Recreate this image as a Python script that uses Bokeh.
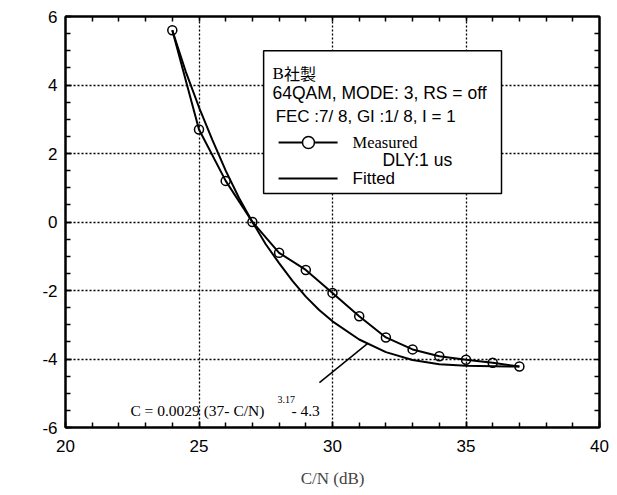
import numpy as np
from bokeh.plotting import figure
from bokeh.models import (LinearAxis, SingleIntervalTicker, FixedTicker, Label, Range1d,
                          PrintfTickFormatter)
from bokeh.embed import file_html
from bokeh.resources import INLINE

# ---- data ----
cn_measured = [24, 25, 26, 27, 28, 29, 30, 31, 32, 33, 34, 35, 36, 37]
c_measured = [5.6, 2.7, 1.2, 0.0, -0.9, -1.4, -2.07, -2.75, -3.37, -3.72, -3.92, -4.02, -4.11, -4.22]

cn_fitted = [24, 24.5, 25, 25.5, 26, 26.5, 27, 27.5, 28, 28.5, 29, 29.5, 30, 31, 32, 33, 34, 35, 36, 37]
c_fitted = [5.6, 4.4, 3.35, 2.4, 1.5, 0.7, 0.0, -0.65, -1.2, -1.72, -2.18, -2.57, -2.9, -3.43, -3.8, -4.03, -4.15, -4.2, -4.21, -4.22]

x_range = (20, 40)
y_range = (-6, 6)

legend_lines = ["64QAM, MODE: 3,  RS = off", "FEC :7/ 8, GI :1/ 8, I = 1"]
legend_title_b = "B"
legend_title_jp = "社製"
ylabel_chars = ["補", "正", "値"]
formula_main = "C = 0.0029 (37- C/N)"
formula_exp = "3.17"
formula_tail = "- 4.3"

# annotation anchor positions (data units)
box_lrtb = (27.42, 36.33, 5.0, 0.83)
leader_x = [29.51, 31.31]
leader_y = [-4.69, -3.55]

SANS = "Liberation Sans"
SERIF = "Liberation Serif"
CJK = "Noto Sans CJK JP"

p = figure(width=617, height=495, output_backend="svg", toolbar_location=None,
           x_range=Range1d(*x_range), y_range=Range1d(*y_range),
           min_border_left=65, min_border_right=18, min_border_top=16, min_border_bottom=68,
           background_fill_color="white", border_fill_color="white")
p.outline_line_color = "black"
p.outline_line_width = 2

xt = SingleIntervalTicker(interval=5, num_minor_ticks=5)
yt = SingleIntervalTicker(interval=2, num_minor_ticks=4)

p.xaxis.ticker = xt
p.yaxis.ticker = yt
p.yaxis.formatter = PrintfTickFormatter(format="%d")
p.xaxis.formatter = PrintfTickFormatter(format="%d")
for ax in (p.xaxis[0], p.yaxis[0]):
    ax.axis_line_width = 2
    ax.major_tick_in = 6
    ax.major_tick_out = 0
    ax.minor_tick_in = 5
    ax.minor_tick_out = 0
    ax.major_tick_line_width = 1.5
    ax.minor_tick_line_width = 1.5
    ax.major_label_text_font = SANS
    ax.major_label_text_font_size = "17px"
    ax.major_label_text_color = "black"

p.xaxis.major_label_standoff = 12
p.yaxis.major_label_standoff = 8

p.xaxis.axis_label = "C/N (dB)"
p.xaxis.axis_label_text_font = SERIF
p.xaxis.axis_label_text_font_style = "normal"
p.xaxis.axis_label_text_font_size = "17px"
p.xaxis.axis_label_standoff = 14

# mirrored tick-only axes (top and right)
top_ticks = FixedTicker(ticks=[], minor_ticks=list(np.arange(21, 40, 1.0)))
right_ticks = FixedTicker(ticks=[], minor_ticks=list(np.arange(-5.5, 6.0, 0.5)))
for loc, tk in (("above", top_ticks), ("right", right_ticks)):
    ax = LinearAxis(ticker=tk, axis_line_width=2, major_tick_in=6, major_tick_out=0,
                    minor_tick_in=5, minor_tick_out=0, major_tick_line_width=1.5,
                    minor_tick_line_width=1.5, major_label_standoff=0)
    p.add_layout(ax, loc)

for g in (p.xgrid[0], p.ygrid[0]):
    g.grid_line_color = "black"
    g.grid_line_dash = "2 2"
    g.grid_line_width = 1.3
p.xgrid.ticker = xt
p.ygrid.ticker = yt

# legend box
l, r, t, b = box_lrtb
p.quad(left=[l], right=[r], top=[t], bottom=[b], fill_color="white",
       line_color="black", line_width=1.5)

# data
p.line(cn_fitted, c_fitted, line_color="black", line_width=2)
p.line(cn_measured, c_measured, line_color="black", line_width=2)
p.scatter(cn_measured, c_measured, marker="circle", size=9, fill_color=None,
          line_color="black", line_width=1.5)

# leader line for formula
p.line(leader_x, leader_y, line_color="black", line_width=1.5)

# legend samples
p.line([27.98, 30.19], [2.32, 2.32], line_color="black", line_width=2)
p.scatter([29.10], [2.32], marker="circle", size=12, fill_color="white",
          line_color="black", line_width=1.5)
p.line([27.98, 30.19], [1.27, 1.27], line_color="black", line_width=2)

def lab(x, y, text, font, size, align="left"):
    p.add_layout(Label(x=x, y=y, text=text, text_font=font, text_font_size=size,
                       text_align=align, text_baseline="middle", text_color="black"))

lab(27.75, 4.34, legend_title_b, SERIF, "17px")
lab(28.18, 4.34, legend_title_jp, CJK, "16px")
lab(27.75, 3.77, legend_lines[0], SANS, "17.5px")
lab(27.87, 3.07, legend_lines[1], SANS, "17px")
lab(30.75, 2.32, "Measured", SERIF, "16.5px")
lab(31.87, 1.80, "DLY:1 us", SANS, "17.5px")
lab(30.75, 1.27, "Fitted", SANS, "17px")

# y-axis label (vertical stack)
for i, ch in enumerate(ylabel_chars):
    lab(18.5, 0.83 - 0.438 * i, ch, CJK, "15px", "center")
lab(18.52, -1.33, "C", SANS, "17px", "center")
lab(18.56, -1.91, "(dB)", SANS, "17px", "center")

# formula
lab(22.43, -5.5, formula_main, SERIF, "15.5px")
lab(27.94, -5.17, formula_exp, SERIF, "10px")
lab(28.46, -5.5, formula_tail, SERIF, "15.5px")

open("out.html", "w").write(file_html(p, INLINE))
